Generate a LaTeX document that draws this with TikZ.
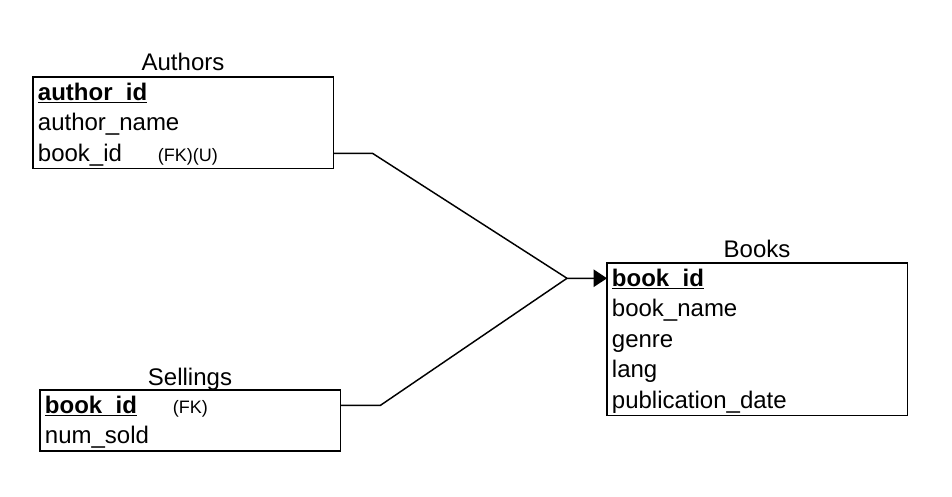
\documentclass[tikz,border=0pt]{standalone}
\usepackage{fontspec}
\setmainfont{Liberation Sans}
\usetikzlibrary{positioning,arrows.meta}

% primary key: bold with a rule under it
\newlength\pkeywd
\newcommand\pkey[1]{\settowidth\pkeywd{\textbf{#1}}\textbf{#1}\hspace{-\pkeywd}\rule[-2.4pt]{\pkeywd}{1.4pt}}
% small key remark
\newcommand\fkey[1]{{\fontsize{13.5pt}{15pt}\selectfont #1}}

\begin{document}
\begin{tikzpicture}[
        x=0.75pt, y=-0.75pt,
        font=\fontsize{18pt}{22pt}\selectfont,
        row/.style={anchor=north west, minimum width=225pt, minimum height=22.5pt,
          text width=218pt, inner xsep=3.5pt, inner ysep=0pt,
          text height=15pt, text depth=3pt, align=left},
        below row/.style={row, below=0pt of #1},
        caption/.style={anchor=base},
        frame/.style={draw, line width=1.1pt},
        link/.style={draw, line width=1.1pt},
      ]
        \useasboundingbox (0,0) rectangle (952,496);
        % Authors
        \node[row] (a1) at (33,77) {\pkey{author\_id}};
        \node[below row=a1] (a2) {author\_name};
        \node[below row=a2] (a3) {\makebox[90pt][l]{book\_id}\fkey{(FK)(U)}};
        \draw[frame] (a1.north west) rectangle (a3.south east);
        \node[caption] (authors) at (183,70) {Authors};
        % Books
        \node[row] (b1) at (607,263) {\pkey{book\_id}};
        \node[below row=b1] (b2) {book\_name};
        \node[below row=b2] (b3) {genre};
        \node[below row=b3] (b4) {lang};
        \node[below row=b4] (b5) {publication\_date};
        \draw[frame] (b1.north west) rectangle (b5.south east);
        \node[caption] (books) at (757,257) {Books};
        % Sellings
        \node[row] (s1) at (40,390) {\makebox[96pt][l]{\pkey{book\_id}}\fkey{(FK)}};
        \node[below row=s1] (s2) {num\_sold};
        \draw[frame] (s1.north west) rectangle (s2.south east);
        \node[caption] (sellings) at (190,385) {Sellings};
        % links to Books
        \coordinate (join) at ([xshift=-30pt]b1.west);
        \draw[link, -{Triangle[length=10pt,width=13pt]}] (a3.east) -- ++(39,0) -- (join) -- (b1.west);
        \draw[link] (s1.east) -- ++(40,0) -- (join);
      \end{tikzpicture}
\end{document}
